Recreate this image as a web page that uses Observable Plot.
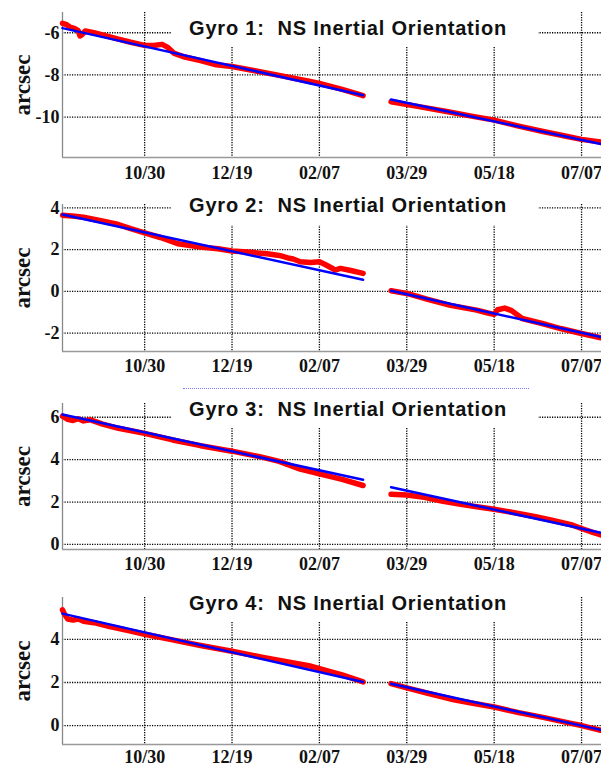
<!DOCTYPE html>
<html><head><meta charset="utf-8">
<script src="https://cdn.jsdelivr.net/npm/d3@7"></script>
<script src="https://cdn.jsdelivr.net/npm/@observablehq/plot@0.6"></script>
<style>
html,body{margin:0;padding:0;background:#fff;overflow:hidden;}
#wrap{position:relative;width:601px;height:767px;overflow:hidden;}
.panel{position:absolute;left:0;}
.title{position:absolute;left:172px;width:366px;height:38px;box-sizing:border-box;padding-right:14px;background:#fff;
  font-family:"Liberation Sans",Arial,sans-serif;font-weight:bold;font-size:20px;letter-spacing:0.8px;color:#111;
  display:flex;align-items:center;justify-content:center;white-space:pre;}
.sep{position:absolute;left:183px;top:388px;width:346px;border-top:1px dotted #7a7aff;}
</style></head>
<body><div id="wrap"></div>
<script>
// ---- data ----
const xDomainDates = ["2000-09-13", "2001-07-18T10:00"];
const xTickDates = ["2000-10-30", "2000-12-19", "2001-02-07", "2001-03-29", "2001-05-18", "2001-07-07"];
const gapDate = "2001-03-12";
const fitDates = ["2000-09-13", "2001-03-04", "2001-03-20", "2001-07-18"];

const titles = ["Gyro 1:  NS Inertial Orientation", "Gyro 2:  NS Inertial Orientation",
                "Gyro 3:  NS Inertial Orientation", "Gyro 4:  NS Inertial Orientation"];
const yLabel = "arcsec";

const gyro1YTicks = [-6, -8, -10];
const gyro2YTicks = [4, 2, 0, -2];
const gyro3YTicks = [6, 4, 2, 0];
const gyro4YTicks = [4, 2, 0];

const gyro1YDomain = [-11.91, -5.04];
const gyro2YDomain = [-2.88, 4.16];
const gyro3YDomain = [-0.24, 6.65];
const gyro4YDomain = [-0.88, 5.95];

const gyro1FitValues = [-5.78, -8.96, -9.16, -11.27];
const gyro2FitValues = [3.68, 0.56, 0.03, -2.19];
const gyro3FitValues = [6.13, 3.05, 2.70, 0.55];
const gyro4FitValues = [5.20, 2.02, 1.94, -0.20];

const gyro1RedDates = ["2000-09-13","2000-09-15","2000-09-17","2000-09-20","2000-09-22","2000-09-23","2000-09-24","2000-09-26",
  "2000-10-01","2000-10-08","2000-10-15","2000-10-22","2000-10-30","2000-11-04","2000-11-09","2000-11-12","2000-11-16",
  "2000-11-22","2000-12-01","2000-12-10","2000-12-19","2001-01-01","2001-01-15","2001-02-01","2001-02-07","2001-02-20","2001-03-04",
  "2001-03-20","2001-04-05","2001-04-20","2001-05-05","2001-05-18","2001-06-01","2001-06-15","2001-07-01","2001-07-07","2001-07-18"];
const gyro1RedValues = [-5.55,-5.6,-5.72,-5.8,-5.9,-6.15,-6.1,-5.92,
  -6.0,-6.15,-6.3,-6.45,-6.6,-6.6,-6.55,-6.68,-6.98,
  -7.15,-7.32,-7.52,-7.6,-7.8,-8.02,-8.3,-8.4,-8.68,-8.98,
  -9.27,-9.5,-9.72,-9.95,-10.14,-10.42,-10.68,-10.95,-11.05,-11.18];

const gyro2RedDates = ["2000-09-13","2000-09-20","2000-09-25","2000-10-05","2000-10-15","2000-10-22","2000-10-30","2000-11-08",
  "2000-11-14","2000-11-18","2000-11-25","2000-12-01","2000-12-11","2000-12-19","2000-12-28","2001-01-08","2001-01-15",
  "2001-01-20","2001-01-23","2001-01-27","2001-02-02","2001-02-07","2001-02-10","2001-02-14","2001-02-16","2001-02-19",
  "2001-02-25","2001-03-04",
  "2001-03-20","2001-03-29","2001-04-10","2001-04-23","2001-05-08","2001-05-15","2001-05-18","2001-05-20","2001-05-24",
  "2001-05-28","2001-06-03","2001-06-15","2001-06-25","2001-07-07","2001-07-18"];
const gyro2RedValues = [3.65,3.6,3.55,3.38,3.2,3.0,2.8,2.58,
  2.4,2.28,2.2,2.12,2.04,1.93,1.88,1.8,1.72,
  1.6,1.55,1.42,1.38,1.42,1.3,1.12,1.02,1.1,
  1.0,0.86,
  0.03,-0.1,-0.38,-0.67,-0.9,-1.05,-1.1,-0.88,-0.8,
  -0.92,-1.3,-1.55,-1.78,-2.02,-2.22];

const gyro3RedDates = ["2000-09-13","2000-09-16","2000-09-19","2000-09-22","2000-09-25","2000-09-29","2000-10-06","2000-10-15",
  "2000-10-30","2000-11-15","2000-12-01","2000-12-19","2001-01-05","2001-01-15","2001-01-27","2001-02-07","2001-02-20","2001-03-04",
  "2001-03-20","2001-03-29","2001-04-08","2001-04-18","2001-04-28","2001-05-08","2001-05-18","2001-05-28","2001-06-10",
  "2001-06-20","2001-07-01","2001-07-07","2001-07-13","2001-07-18"];
const gyro3RedValues = [6.05,5.9,5.85,5.93,5.83,5.88,5.68,5.48,
  5.24,4.93,4.66,4.4,4.12,3.92,3.55,3.33,3.07,2.78,
  2.37,2.33,2.22,2.05,1.9,1.78,1.66,1.52,1.32,
  1.14,0.93,0.75,0.58,0.45];

const gyro4RedDates = ["2000-09-13","2000-09-14","2000-09-16","2000-09-19","2000-09-22","2000-09-25","2000-10-01","2000-10-10",
  "2000-10-20","2000-10-30","2000-11-15","2000-12-01","2000-12-19","2001-01-05","2001-01-20","2001-02-01","2001-02-07",
  "2001-02-20","2001-03-04",
  "2001-03-20","2001-03-29","2001-04-10","2001-04-25","2001-05-05","2001-05-18","2001-06-01","2001-06-15","2001-07-01",
  "2001-07-07","2001-07-18"];
const gyro4RedValues = [5.38,5.2,4.95,4.9,4.95,4.85,4.78,4.6,
  4.42,4.24,3.98,3.72,3.45,3.18,2.95,2.78,2.64,
  2.35,2.03,
  1.95,1.75,1.5,1.2,1.05,0.86,0.6,0.38,0.1,
  0.0,-0.22];

// ---- layout per panel (positions/sizes only) ----
const layout = [
  {top: 0,   height: 190, marginTop: 12, marginBottom: 33, titleCenter: 28, tickPadding: 9},
  {top: 190, height: 200, marginTop: 14, marginBottom: 39, titleCenter: 205.5, tickPadding: 8},
  {top: 390, height: 180, marginTop: 13, marginBottom: 21, titleCenter: 409, tickPadding: 8},
  {top: 570, height: 197, marginTop: 27, marginBottom: 23, titleCenter: 603, tickPadding: 6}
];

const gyros = [
  {yTicks: gyro1YTicks, yDomain: gyro1YDomain, fit: gyro1FitValues, redDates: gyro1RedDates, redValues: gyro1RedValues},
  {yTicks: gyro2YTicks, yDomain: gyro2YDomain, fit: gyro2FitValues, redDates: gyro2RedDates, redValues: gyro2RedValues},
  {yTicks: gyro3YTicks, yDomain: gyro3YDomain, fit: gyro3FitValues, redDates: gyro3RedDates, redValues: gyro3RedValues},
  {yTicks: gyro4YTicks, yDomain: gyro4YDomain, fit: gyro4FitValues, redDates: gyro4RedDates, redValues: gyro4RedValues}
];

const parse = s => new Date(s.length > 10 ? s + "Z" : s + "T00:00Z");
const xDomain = xDomainDates.map(parse);
const xTicks = xTickDates.map(parse);
const gap = parse(gapDate);
const fmt = d3.utcFormat("%m/%d");
const wrap = document.getElementById("wrap");

gyros.forEach((g, i) => {
  const L = layout[i];
  const red = g.redDates.map((d, j) => ({date: parse(d), value: g.redValues[j]}))
    .map(o => ({...o, seg: o.date < gap ? 1 : 2}));
  const fit = fitDates.map((d, j) => ({date: parse(d), value: g.fit[j]}))
    .map(o => ({...o, seg: o.date < gap ? 1 : 2}));
  const chart = Plot.plot({
    width: 601, height: L.height,
    marginTop: L.marginTop, marginBottom: L.marginBottom, marginLeft: 62, marginRight: 0,
    style: {fontFamily: "'Liberation Serif', 'Times New Roman', serif", fontWeight: "bold", fontSize: "18px", color: "#111", background: "#fff", overflow: "visible"},
    x: {type: "utc", domain: xDomain, ticks: xTicks, tickFormat: fmt, tickSize: 0, tickPadding: L.tickPadding, label: null},
    y: {domain: g.yDomain, ticks: g.yTicks, tickFormat: d => String(d), tickSize: 0, tickPadding: 3, label: null},
    marks: [
      Plot.ruleY(g.yTicks, {stroke: "#000", strokeWidth: 1.3, strokeDasharray: "1.2,1.3"}),
      Plot.ruleX(xTicks, {stroke: "#000", strokeWidth: 1.3, strokeDasharray: "1.2,1.3"}),
      Plot.ruleX([xDomain[0]], {stroke: "#888", strokeWidth: 1.3}),
      Plot.ruleY([g.yDomain[0]], {stroke: "#999", strokeWidth: 1.3}),
      Plot.line(red, {x: "date", y: "value", z: "seg", stroke: "#ff0000", strokeWidth: 5.5, strokeLinecap: "round", strokeLinejoin: "round"}),
      Plot.line(fit, {x: "date", y: "value", z: "seg", stroke: "#0000ff", strokeWidth: 2.5}),
      Plot.text([yLabel], {text: d => d, frameAnchor: "left", textAnchor: "middle", lineAnchor: "middle", rotate: -90, dx: -40, fontSize: 23, fontWeight: "bold", fill: "#111"})
    ]
  });
  chart.classList.add("panel");
  chart.style.top = L.top + "px";
  wrap.appendChild(chart);
  const t = document.createElement("div");
  t.className = "title";
  t.style.top = (L.titleCenter - 19) + "px";
  t.textContent = titles[i];
  wrap.appendChild(t);
});
const sep = document.createElement("div");
sep.className = "sep";
wrap.appendChild(sep);
</script>
</body></html>
